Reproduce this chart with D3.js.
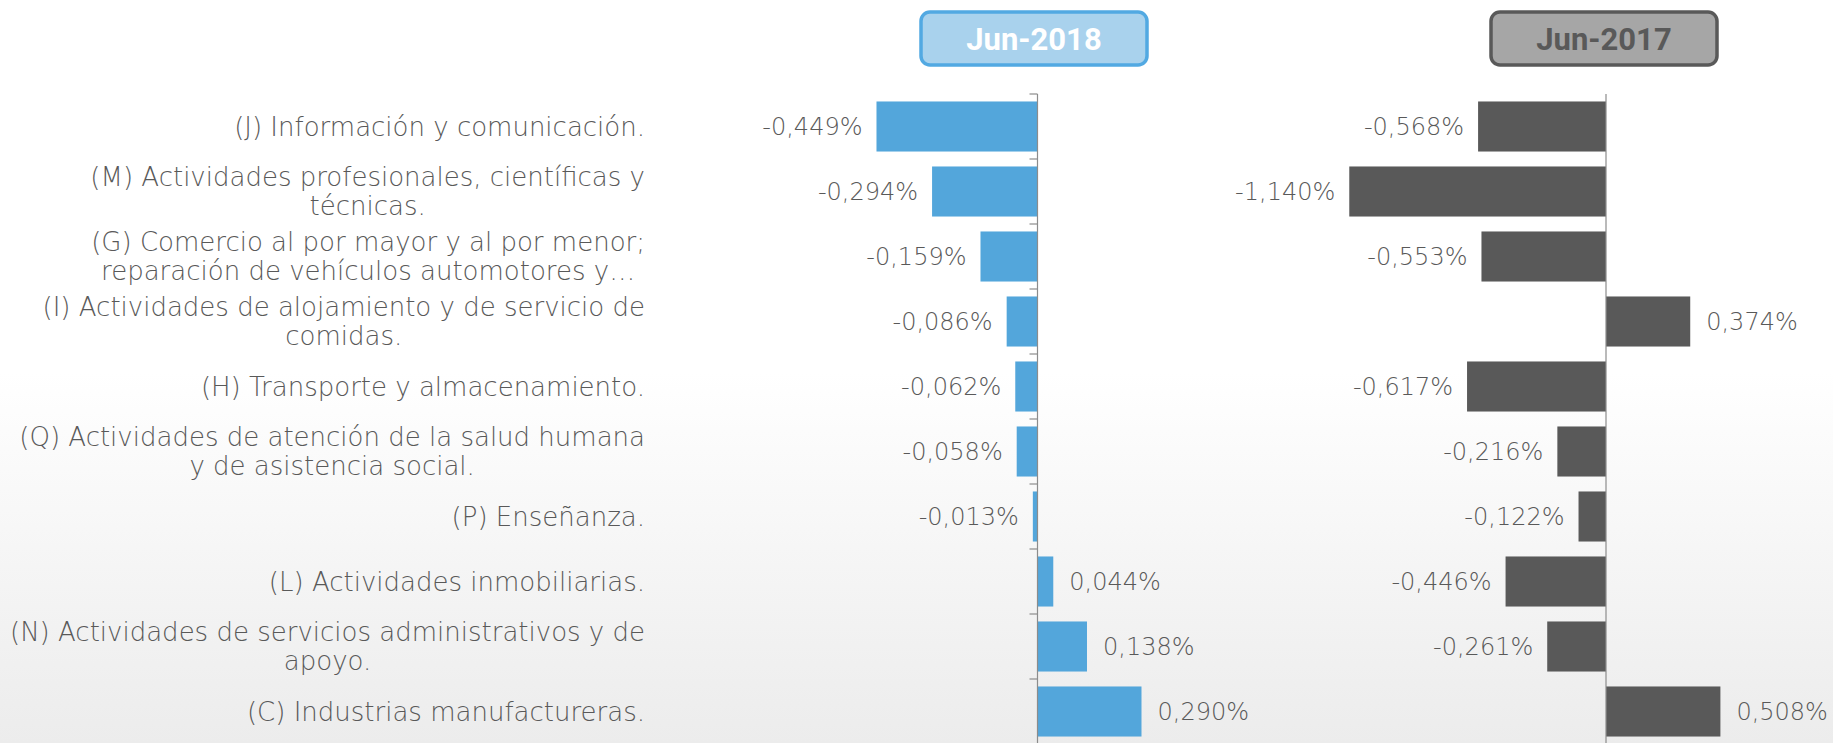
<!DOCTYPE html>
<meta charset="utf-8">
<style>
body { margin: 0; }
svg { display: block; }
.cat { font: 200 26px "DejaVu Sans", sans-serif; fill: #595959; }
.val { font: 200 24px "DejaVu Sans", sans-serif; fill: #595959; }
.ttl { font: 700 31px Roboto, sans-serif; text-anchor: middle; }
</style>
<svg width="1833" height="743"></svg>
<script src="https://d3js.org/d3.v7.min.js"></script>
<script>

// categories (already split into the lines shown)
var categories = [
  ["(J) Información y comunicación."],
  ["(M) Actividades profesionales, científicas y", "técnicas."],
  ["(G) Comercio al por mayor y al por menor;", "reparación de vehículos automotores y…"],
  ["(I) Actividades de alojamiento y de servicio de", "comidas."],
  ["(H) Transporte y almacenamiento."],
  ["(Q) Actividades de atención de la salud humana", "y de asistencia social."],
  ["(P) Enseñanza."],
  ["(L) Actividades inmobiliarias."],
  ["(N) Actividades de servicios administrativos y de", "apoyo."],
  ["(C) Industrias manufactureras."]
];
var jun2018 = [-0.449, -0.294, -0.159, -0.086, -0.062, -0.058, -0.013, 0.044, 0.138, 0.290];
var jun2017 = [-0.568, -1.140, -0.553, 0.374, -0.617, -0.216, -0.122, -0.446, -0.261, 0.508];

var svg = d3.select("svg");

// faint grey wash at the bottom
var grad = svg.append("defs").append("linearGradient")
    .attr("id", "bg").attr("x1", 0).attr("y1", 0).attr("x2", 0).attr("y2", 1);
grad.append("stop").attr("offset", "0.5").attr("stop-color", "#ffffff");
grad.append("stop").attr("offset", "1").attr("stop-color", "#ececec");
svg.append("rect").attr("width", 1833).attr("height", 743).attr("fill", "url(#bg)");

var y = d3.scaleBand()
    .domain(d3.range(categories.length))
    .range([94, 744])
    .paddingInner(0.23)
    .paddingOuter(0.115);

var fmt = function(v) { return d3.format(".3f")(v).replace(".", ",").replace("−", "-") + "%"; };

// category labels, each block right aligned, lines centred inside it
var labelRight = 645;
categories.forEach(function(lines, i) {
  var g = svg.append("g");
  var t = g.selectAll("text").data(lines).enter().append("text")
      .attr("class", "cat")
      .attr("y", function(d, j) { return y(i) + y.bandwidth() / 2 + (j - (lines.length - 1) / 2) * 28.5; })
      .attr("dy", "0.35em")
      .attr("text-anchor", "middle")
      .text(function(d) { return d; });
  var w = d3.max(t.nodes(), function(n) { return n.getComputedTextLength(); });
  t.attr("x", labelRight - w / 2);
});

function panel(values, x, color, ticks) {
  var g = svg.append("g");
  g.selectAll("rect").data(values).enter().append("rect")
      .attr("x", function(d) { return x(Math.min(0, d)); })
      .attr("y", function(d, i) { return y(i); })
      .attr("width", function(d) { return Math.abs(x(d) - x(0)); })
      .attr("height", y.bandwidth())
      .attr("fill", color);

  g.append("line")
      .attr("x1", x(0)).attr("x2", x(0))
      .attr("y1", 94).attr("y2", 744)
      .attr("stroke", "#8c8c8c").attr("stroke-width", 1.2);

  if (ticks) {
    g.selectAll(".tick").data(d3.range(categories.length + 1)).enter().append("line")
        .attr("x1", x(0) - 8).attr("x2", x(0))
        .attr("y1", function(i) { return 94 + i * 65; })
        .attr("y2", function(i) { return 94 + i * 65; })
        .attr("stroke", "#8c8c8c").attr("stroke-width", 1.2);
  }

  g.selectAll(".val").data(values).enter().append("text")
      .attr("class", "val")
      .attr("x", function(d) { return d < 0 ? x(d) - 14 : x(d) + 16; })
      .attr("y", function(d, i) { return y(i) + y.bandwidth() / 2; })
      .attr("dy", "0.35em")
      .attr("text-anchor", function(d) { return d < 0 ? "end" : "start"; })
      .text(fmt);
}

var x2018 = d3.scaleLinear().domain([-0.5, 0.3]).range([1037.5 - 0.5 * 358.6, 1037.5 + 0.3 * 358.6]);
var x2017 = d3.scaleLinear().domain([-1.2, 0.6]).range([1606 - 1.2 * 225.2, 1606 + 0.6 * 225.2]);

panel(jun2018, x2018, "#53a6db", true);
panel(jun2017, x2017, "#595959", false);

// title badges
function badge(label, cx, fill, stroke, textColor) {
  svg.append("rect")
      .attr("x", cx - 113).attr("y", 12).attr("width", 226).attr("height", 53)
      .attr("rx", 9)
      .attr("fill", fill).attr("stroke", stroke).attr("stroke-width", 3.5);
  svg.append("text").attr("class", "ttl")
      .attr("x", cx).attr("y", 38.5).attr("dy", "0.36em")
      .attr("fill", textColor)
      .text(label);
}
badge("Jun-2018", 1034, "#a9d2ed", "#52a9e2", "#ffffff");
badge("Jun-2017", 1604, "#a6a6a6", "#595959", "#595959");

</script>
